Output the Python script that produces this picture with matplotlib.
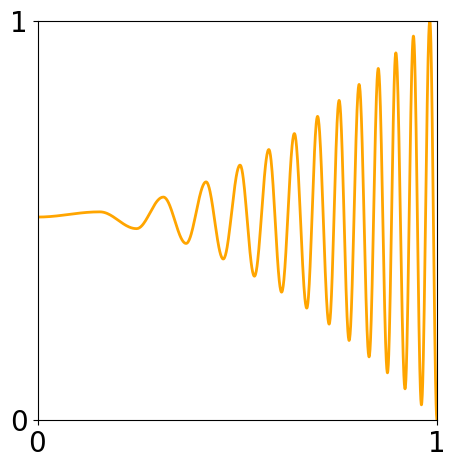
import numpy as np
import matplotlib
matplotlib.use("Agg")
import matplotlib.pyplot as plt

# turning points of the curve (start, alternating peaks/troughs, end)
x_ext = [0.0, 0.156, 0.248, 0.315, 0.372, 0.422, 0.465, 0.507, 0.543, 0.579, 0.611,
         0.643, 0.674, 0.701, 0.730, 0.755, 0.780, 0.805, 0.830, 0.853, 0.876,
         0.897, 0.920, 0.941, 0.961, 0.982, 1.0]
y_ext = [0.508, 0.521, 0.479, 0.558, 0.442, 0.596, 0.403, 0.638, 0.360, 0.677, 0.320,
         0.717, 0.280, 0.760, 0.240, 0.800, 0.199, 0.840, 0.158, 0.880, 0.118,
         0.919, 0.078, 0.961, 0.038, 1.0, 0.0]
tick_vals = [0, 1]
tick_labels = ["0", "1"]


def smooth_through(xs, ys, n=40):
    # half-cosine between neighbouring turning points -> flat at every extremum
    px, py = [], []
    t = np.linspace(0, 1, n)
    for i in range(len(xs) - 1):
        s = (1 - np.cos(np.pi * t)) / 2
        px.append(xs[i] + (xs[i + 1] - xs[i]) * t[:-1])
        py.append(ys[i] + (ys[i + 1] - ys[i]) * s[:-1])
    px.append([xs[-1]]); py.append([ys[-1]])
    return np.concatenate(px), np.concatenate(py)


cx, cy = smooth_through(x_ext, y_ext)

fig = plt.figure(figsize=(4.56, 4.68), dpi=100)
ax = fig.add_axes([37.5 / 456, 48 / 468, 399.5 / 456, 399.5 / 468])
ax.plot(cx, cy, color="orange", lw=2)
ax.set_xlim(0, 1); ax.set_ylim(0, 1)
ax.set_xticks(tick_vals); ax.set_xticklabels(tick_labels)
ax.set_yticks(tick_vals); ax.set_yticklabels(tick_labels)
ax.tick_params(labelsize=20)
fig.savefig("out.png", dpi=100)
